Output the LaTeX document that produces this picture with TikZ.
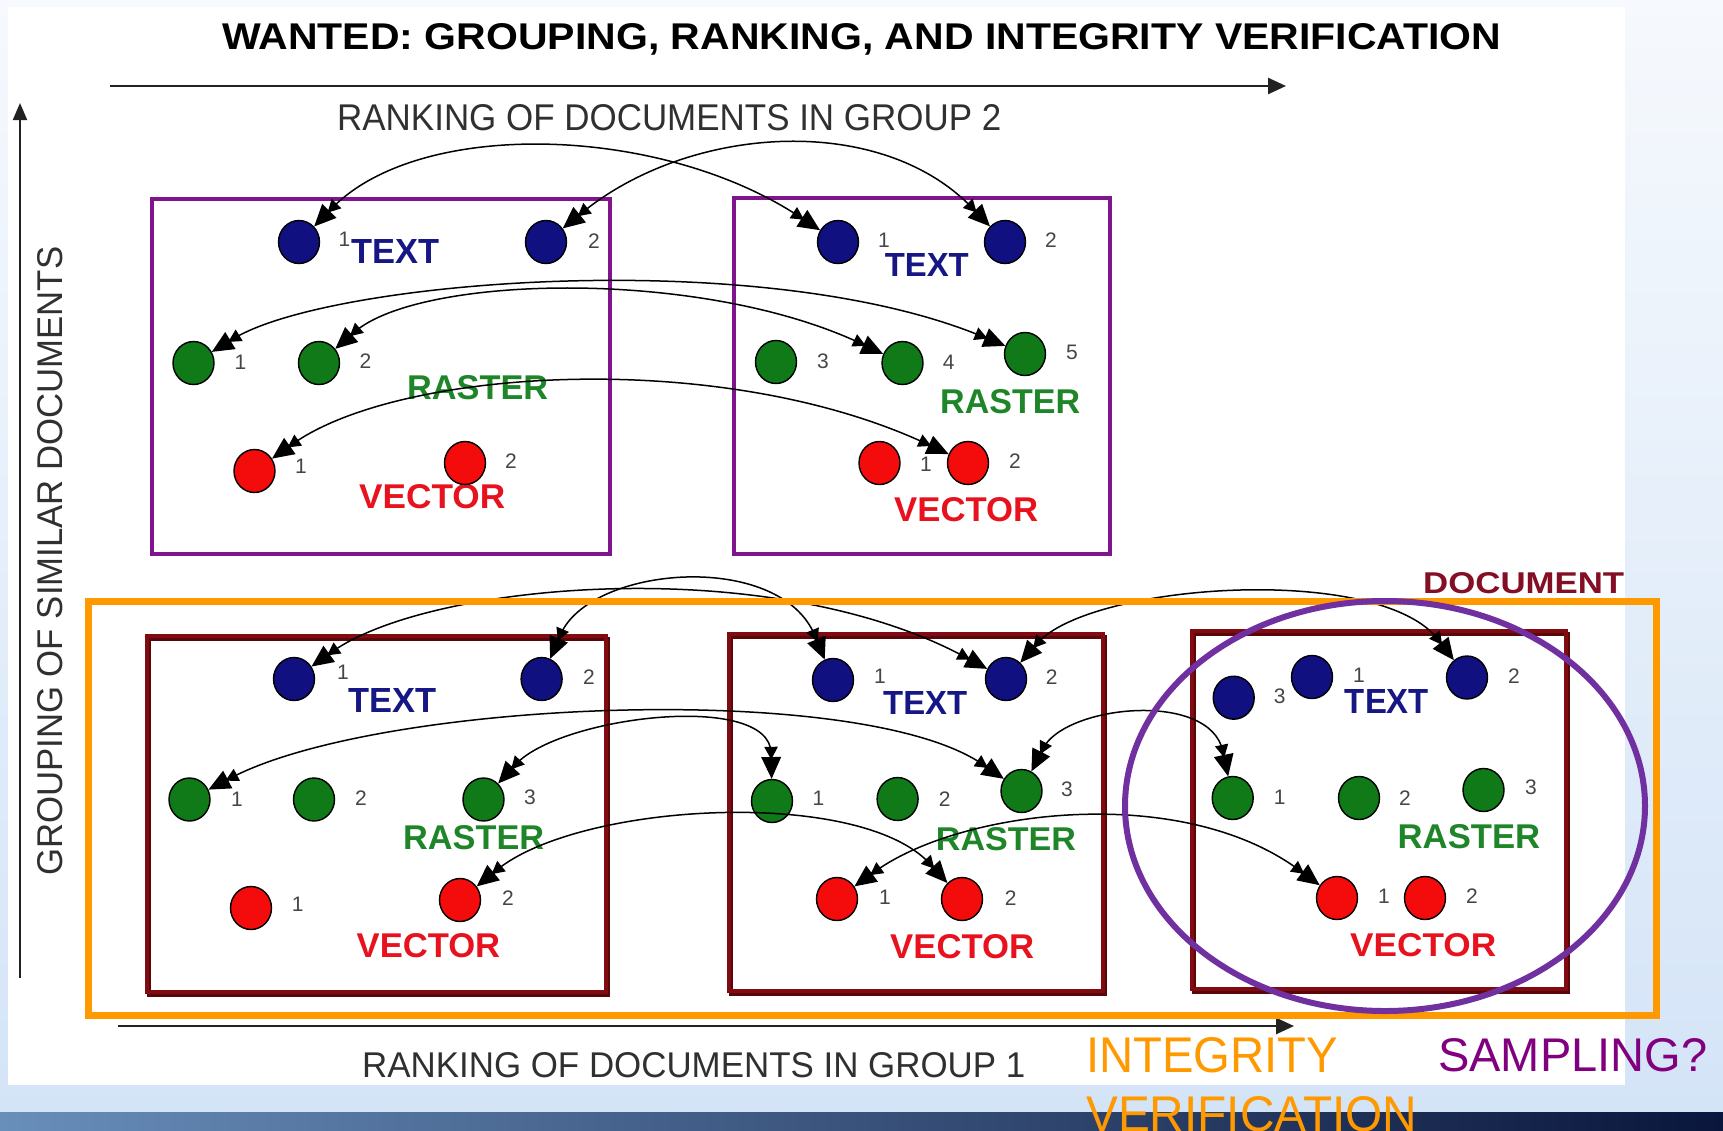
\documentclass[tikz,border=0pt]{standalone}
\usepackage{fontspec}
\setmainfont{Liberation Sans}
\usepackage{graphicx}
\usetikzlibrary{arrows.meta,shapes.geometric}

\definecolor{navyfill}{RGB}{16,16,128}
\definecolor{greenfill}{RGB}{16,122,24}
\definecolor{redfill}{RGB}{244,12,12}
\definecolor{textblue}{RGB}{22,22,132}
\definecolor{textgreen}{RGB}{30,134,40}
\definecolor{textred}{RGB}{232,18,30}
\definecolor{grpviolet}{RGB}{128,20,140}
\definecolor{docred}{RGB}{128,12,18}
\definecolor{docshadow}{RGB}{90,6,10}
\definecolor{docword}{RGB}{132,14,36}
\definecolor{integrity}{RGB}{255,153,0}
\definecolor{sampling}{RGB}{112,48,160}
\definecolor{samplingword}{RGB}{128,0,128}
\definecolor{axisgray}{RGB}{34,34,34}
\definecolor{axistext}{RGB}{48,48,48}
\definecolor{numgray}{RGB}{70,70,70}
\definecolor{slidetop}{RGB}{246,249,253}
\definecolor{slidebottom}{RGB}{212,228,247}
\definecolor{barleft}{RGB}{104,142,186}
\definecolor{barmid}{RGB}{58,92,140}
\definecolor{barright}{RGB}{10,22,60}

% scale a text to a given width and cap height (in pt)
\newcommand{\fitto}[3]{\resizebox{#1pt}{#2pt}{#3}}

% double arrowhead: a small triangle in front of a large one
\pgfdeclarearrow{
  name = DocTip,
  parameters = {\the\pgfarrowlength,\the\pgfarrowwidth},
  setup code = {
    \pgfarrowssettipend{0pt}
    \pgfarrowssetbackend{-\pgfarrowlength}
    \pgfarrowssetlineend{-0.8\pgfarrowlength}
    \pgfarrowssetvisualbackend{-\pgfarrowlength}
    \pgfarrowshullpoint{0pt}{0pt}
    \pgfarrowshullpoint{-\pgfarrowlength}{0.5\pgfarrowwidth}
    \pgfarrowshullpoint{-\pgfarrowlength}{-0.5\pgfarrowwidth}
  },
  drawing code = {
    \pgfpathmoveto{\pgfqpoint{0pt}{0pt}}
    \pgfpathlineto{\pgfqpoint{-0.68\pgfarrowlength}{0.5\pgfarrowwidth}}
    \pgfpathlineto{\pgfqpoint{-0.68\pgfarrowlength}{-0.5\pgfarrowwidth}}
    \pgfpathclose
    \pgfpathmoveto{\pgfqpoint{-0.6\pgfarrowlength}{0pt}}
    \pgfpathlineto{\pgfqpoint{-\pgfarrowlength}{0.34\pgfarrowwidth}}
    \pgfpathlineto{\pgfqpoint{-\pgfarrowlength}{-0.34\pgfarrowwidth}}
    \pgfpathclose
    \pgfusepathqfill
  },
  defaults = {length=32pt, width=20pt}
}

\begin{document}
\begin{tikzpicture}[x=1pt,y=-1pt,
  lbl/.style={inner sep=0pt, anchor=base west},
  dot/.style={ellipse, draw=black, line width=1.4pt, minimum width=41pt, minimum height=43pt, inner sep=0pt},
  tdot/.style={dot, fill=navyfill},
  gdot/.style={dot, fill=greenfill},
  rdot/.style={dot, fill=redfill},
  num/.style={inner sep=0pt, text=numgray, font=\fontsize{21}{21}\selectfont},
  grpbox/.style={draw=grpviolet, line width=4pt},
  docbox/.style={draw=docred, line width=4pt},
  biarr/.style={draw=black, line width=1.5pt, {DocTip[length=32pt,width=20pt]}-{DocTip[length=32pt,width=20pt]}},
  axis/.style={draw=axisgray, line width=2.5pt, -{Triangle[length=18pt,width=16pt]}},
]
\useasboundingbox (0,0) rectangle (1723,1130);
\clip (0,0) rectangle (1723,1130);

% slide background, picture panel and footer bar
\shade[top color=slidetop, bottom color=slidebottom] (0,0) rectangle (1723,1112);
\shade[left color=barleft, middle color=barmid, right color=barright] (0,1112) rectangle (1723,1130);
\fill[white] (8,7) rectangle (1625,1085);

% title
\node[lbl] (title) at (222,49.3) {\fitto{1279}{26}{\bfseries WANTED: GROUPING, RANKING, AND INTEGRITY VERIFICATION}};

% axes
\coordinate (g2s) at (110,86);
\coordinate (g2e) at (1286,86);
\draw[axis] (g2s) -- (g2e);
\node[lbl, text=axistext] (g2lab) at (337,130) {\fitto{664}{26}{RANKING OF DOCUMENTS IN GROUP 2}};

\coordinate (g1s) at (118,1026);
\coordinate (g1e) at (1294,1026);
\draw[axis] (g1s) -- (g1e);
\node[lbl, text=axistext] (g1lab) at (362,1077) {\fitto{663}{25}{RANKING OF DOCUMENTS IN GROUP 1}};

\coordinate (vs) at (20,978);
\coordinate (ve) at (20,103);
\draw[axis, line width=2pt, -{Triangle[length=17pt,width=14pt]}] (vs) -- (ve);
\node[lbl, rotate=90, text=axistext] (vlab) at (62,876) {\fitto{629}{25}{GROUPING OF SIMILAR DOCUMENTS}};

% group 2 documents
\draw[grpbox] (151.5,198.5) rectangle (609.5,553.5);
\draw[grpbox] (734,197.5) rectangle (1109.5,553.5);

% group 1 documents
\foreach \xa/\ya/\xb/\yb in {147/635.5/605.5/991.5, 729/633.5/1103/991, 1192/631/1565.5/989}{
  \draw[docshadow, line width=4pt] (\xa+2,\ya+3) rectangle (\xb+2,\yb+3);
  \draw[docbox] (\xa,\ya) rectangle (\xb,\yb);
}
\node[lbl, text=docword] (docw) at (1423,593) {\fitto{201}{21}{\bfseries DOCUMENT}};

% content labels
\node[lbl, text=textblue]  (At) at (351,263)   {\fitto{88}{24}{\bfseries TEXT}};
\node[lbl, text=textgreen] (Ar) at (407,399)   {\fitto{141}{24}{\bfseries RASTER}};
\node[lbl, text=textred]   (Av) at (359,508)   {\fitto{146}{24}{\bfseries VECTOR}};
\node[lbl, text=textblue]  (Bt) at (884.6,276.7) {\fitto{84}{23}{\bfseries TEXT}};
\node[lbl, text=textgreen] (Br) at (940,413)   {\fitto{140}{24}{\bfseries RASTER}};
\node[lbl, text=textred]   (Bv) at (894,521.7) {\fitto{144}{24}{\bfseries VECTOR}};
\node[lbl, text=textblue]  (Ct) at (348,712.7) {\fitto{88}{24}{\bfseries TEXT}};
\node[lbl, text=textgreen] (Cr) at (403,849)   {\fitto{141}{24}{\bfseries RASTER}};
\node[lbl, text=textred]   (Cv) at (356.5,957) {\fitto{143.5}{24}{\bfseries VECTOR}};
\node[lbl, text=textblue]  (Dt) at (883,714)   {\fitto{84}{23}{\bfseries TEXT}};
\node[lbl, text=textgreen] (Dr) at (935.7,850) {\fitto{140}{23}{\bfseries RASTER}};
\node[lbl, text=textred]   (Dv) at (890,958)   {\fitto{144}{24}{\bfseries VECTOR}};
\node[lbl, text=textblue]  (Et) at (1344.7,713) {\fitto{84}{24}{\bfseries TEXT}};
\node[lbl, text=textgreen] (Er) at (1397.5,848) {\fitto{142.5}{24}{\bfseries RASTER}};
\node[lbl, text=textred]   (Ev) at (1350,956.7) {\fitto{146}{23}{\bfseries VECTOR}};

% rank numbers
\node[num] (nAb1) at (344.5,239.5) {1};
\node[num] (nAb2) at (594,241) {2};
\node[num] (nAg1) at (240.5,362) {1};
\node[num] (nAg2) at (365.5,361) {2};
\node[num] (nAr1) at (301,466) {1};
\node[num] (nAr2) at (511,461) {2};
\node[num] (nBb1) at (884,240) {1};
\node[num] (nBb2) at (1051,240) {2};
\node[num] (nBg3) at (823,361) {3};
\node[num] (nBg4) at (948.7,362) {4};
\node[num] (nBg5) at (1072,352) {5};
\node[num] (nBr1) at (926,464) {1};
\node[num] (nBr2) at (1015,461) {2};
\node[num] (nCb1) at (343,672) {1};
\node[num] (nCb2) at (589,677) {2};
\node[num] (nCg1) at (237,799) {1};
\node[num] (nCg2) at (361,798) {2};
\node[num] (nCg3) at (530,797) {3};
\node[num] (nCr1) at (297.6,904) {1};
\node[num] (nCr2) at (508,898) {2};
\node[num] (nDb1) at (880,676) {1};
\node[num] (nDb2) at (1051.7,676.7) {2};
\node[num] (nDg1) at (818.5,798) {1};
\node[num] (nDg2) at (944.6,799) {2};
\node[num] (nDg3) at (1067,789) {3};
\node[num] (nDr1) at (885,897) {1};
\node[num] (nDr2) at (1010.7,898) {2};
\node[num] (nEb3) at (1279.7,696) {3};
\node[num] (nEb1) at (1359,675) {1};
\node[num] (nEb2) at (1514,676.5) {2};
\node[num] (nEg1) at (1279.6,797.5) {1};
\node[num] (nEg2) at (1405,798) {2};
\node[num] (nEg3) at (1531,787) {3};
\node[num] (nEr1) at (1384,896.5) {1};
\node[num] (nEr2) at (1472,896.5) {2};

% elements of each document
\node[tdot] (Ab1) at (299,242) {};
\node[tdot] (Ab2) at (546,242) {};
\node[gdot] (Ag1) at (193.5,363) {};
\node[gdot] (Ag2) at (319,363) {};
\node[rdot] (Ar1) at (254.5,471) {};
\node[rdot] (Ar2) at (465,463) {};

\node[tdot] (Bb1) at (838,242) {};
\node[tdot] (Bb2) at (1005,242) {};
\node[gdot] (Bg3) at (776,362) {};
\node[gdot] (Bg4) at (902.5,363) {};
\node[gdot] (Bg5) at (1025,354) {};
\node[rdot] (Br1) at (879.5,463) {};
\node[rdot] (Br2) at (968,463) {};

\node[tdot] (Cb1) at (294,679) {};
\node[tdot] (Cb2) at (541.6,679) {};
\node[gdot] (Cg1) at (189.5,799.5) {};
\node[gdot] (Cg2) at (314,799.5) {};
\node[gdot] (Cg3) at (483.5,799.5) {};
\node[rdot] (Cr1) at (251,908) {};
\node[rdot] (Cr2) at (460,900) {};

\node[tdot] (Db1) at (833,680) {};
\node[tdot] (Db2) at (1006,679) {};
\node[gdot] (Dg1) at (772,801) {};
\node[gdot] (Dg2) at (897.6,799) {};
\node[gdot] (Dg3) at (1021.5,791) {};
\node[rdot] (Dr1) at (837,899) {};
\node[rdot] (Dr2) at (962,899) {};

\node[tdot] (Eb3) at (1233.7,697.7) {};
\node[tdot] (Eb1) at (1312,677) {};
\node[tdot] (Eb2) at (1467,677.5) {};
\node[gdot] (Eg1) at (1232.7,798) {};
\node[gdot] (Eg2) at (1359,798) {};
\node[gdot] (Eg3) at (1483.5,790) {};
\node[rdot] (Er1) at (1337,898) {};
\node[rdot] (Er2) at (1425,898) {};

% correspondences within group 2
\draw[biarr] (Ab1) .. controls (420,118) and (660,125) .. (Bb1);
\draw[biarr] (Ab2) .. controls (690,125) and (880,112) .. (Bb2);
\draw[biarr] (Ag1) .. controls (330,280) and (760,245) .. (Bg5);
\draw[biarr] (Ag2) .. controls (420,275) and (700,268) .. (Bg4);
\draw[biarr] (Ar1) .. controls (400,368) and (720,348) .. (Br2);

% correspondences within group 1
\draw[biarr] (Cb1) .. controls (430,582) and (770,552) .. (Db2);
\draw[biarr] (Cb2) .. controls (590,565) and (780,550) .. (Db1);
\draw[biarr] (Db2) .. controls (1090,583) and (1380,563) .. (Eb2);
\draw[biarr] (Cg1) .. controls (380,700) and (860,680) .. (Dg3);
\draw[biarr] (Cg3) .. controls (560,716) and (770,691) .. (Dg1);
\draw[biarr] (Dg3) .. controls (1065,705) and (1210,690) .. (Eg1);
\draw[biarr] (Cr2) .. controls (580,802) and (860,787) .. (Dr2);
\draw[biarr] (Dr1) .. controls (960,810) and (1180,782) .. (Er1);

% integrity verification frame and sampling ellipse
\draw[integrity, line width=7pt] (88,601) rectangle (1656.5,1015);
\draw[sampling, line width=6pt] (1385,806) ellipse [x radius=260, y radius=205];

\node[lbl, text=integrity] (intw) at (1086,1072) {\fitto{252}{35}{INTEGRITY}};
\node[lbl, text=integrity] (verw) at (1086,1131) {\fitto{331}{35}{VERIFICATION}};
\node[lbl, text=samplingword] (samw) at (1438,1071) {\fitto{269}{33}{SAMPLING?}};
\end{tikzpicture}
\end{document}
